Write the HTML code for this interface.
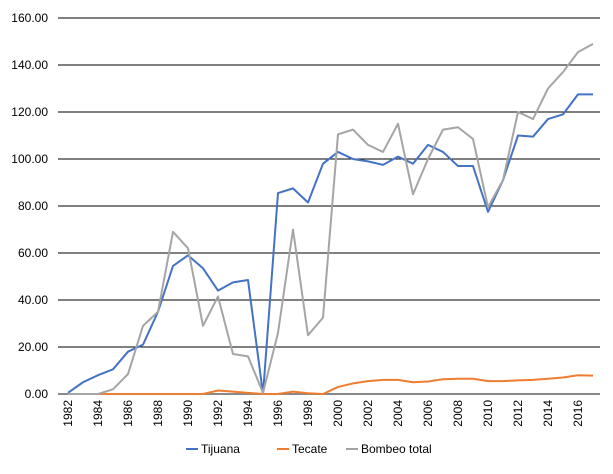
<!DOCTYPE html>
<html><head><meta charset="utf-8"><style>
body{margin:0;background:#fff;font-family:"Liberation Sans",sans-serif}
</style></head><body>
<svg id="c" width="613" height="469" xmlns="http://www.w3.org/2000/svg"></svg>
<script>
const years=[1982,1983,1984,1985,1986,1987,1988,1989,1990,1991,1992,1993,1994,1995,1996,1997,1998,1999,2000,2001,2002,2003,2004,2005,2006,2007,2008,2009,2010,2011,2012,2013,2014,2015,2016,2017];
const tijuana=[0.5,5,8,10.5,18,21,35,54.5,59,53.5,44,47.5,48.5,0,85.5,87.5,81.5,98,103,100,99,97.5,101,98,106,103,97,97,77.5,91,110,109.5,117,119,127.5,127.5];
const tecate=[0,0,0,0,0,0,0,0,0,0,1.5,1,0.5,0,0,1,0.3,0,3,4.5,5.5,6,6,5,5.3,6.3,6.5,6.5,5.5,5.5,5.8,6,6.5,7,8,7.8];
const bombeo=[0,0,0,2,8.5,29,35,69,62,29,41.5,17,16,0.5,26,70,25,32.5,110.5,112.5,106,103,115,85,100,112.5,113.5,108.5,79.5,91,120,117,130,137,145.5,149];
const yTicks=[0,20,40,60,80,100,120,140,160];
const series=[["tijuana",tijuana,"#4472c4","Tijuana"],["tecate",tecate,"#ed7d31","Tecate"],["bombeo-total",bombeo,"#a5a5a5","Bombeo total"]];
const svg=document.getElementById('c');const NS="http://www.w3.org/2000/svg";
function X(i){return 68+i*15;}
function Y(v){return 394-v*(376/160);}
function mk(t,a,p){const e=document.createElementNS(NS,t);for(const k in a)e.setAttribute(k,a[k]);(p||svg).appendChild(e);return e;}
yTicks.forEach(v=>{
 const l=mk('line',{x1:58,x2:600,y1:Y(v),y2:Y(v),stroke:v===0?'#888':'#000','stroke-width':v===0?2:1});
 
 
 const t=mk('text',{x:48,y:Y(v)+4,'text-anchor':'end','font-size':12,fill:'#000'});t.textContent=v.toFixed(2);
 
 
});
years.forEach((y,i)=>{if(i%2)return;
 const t=mk('text',{transform:`translate(${X(i)+4},${400}) rotate(-90)`,'text-anchor':'end','font-size':12,fill:'#000'});t.textContent=y;
 
 
});
series.forEach(s=>{
 const p=mk('polyline',{points:s[1].map((v,i)=>X(i)+','+Y(v)).join(' '),fill:'none',stroke:s[2],'stroke-width':2,'stroke-linejoin':'round'});
 
 
});
const lx=[186,277,346];
series.forEach((s,i)=>{
 const g=mk('g',{});
 
 
 mk('line',{x1:lx[i],x2:lx[i]+12,y1:449,y2:449,stroke:s[2],'stroke-width':2},g);
 const t=mk('text',{x:lx[i]+15,y:453,'font-size':12,fill:'#000'},g);t.textContent=s[3];
});
</script>
</body></html>
